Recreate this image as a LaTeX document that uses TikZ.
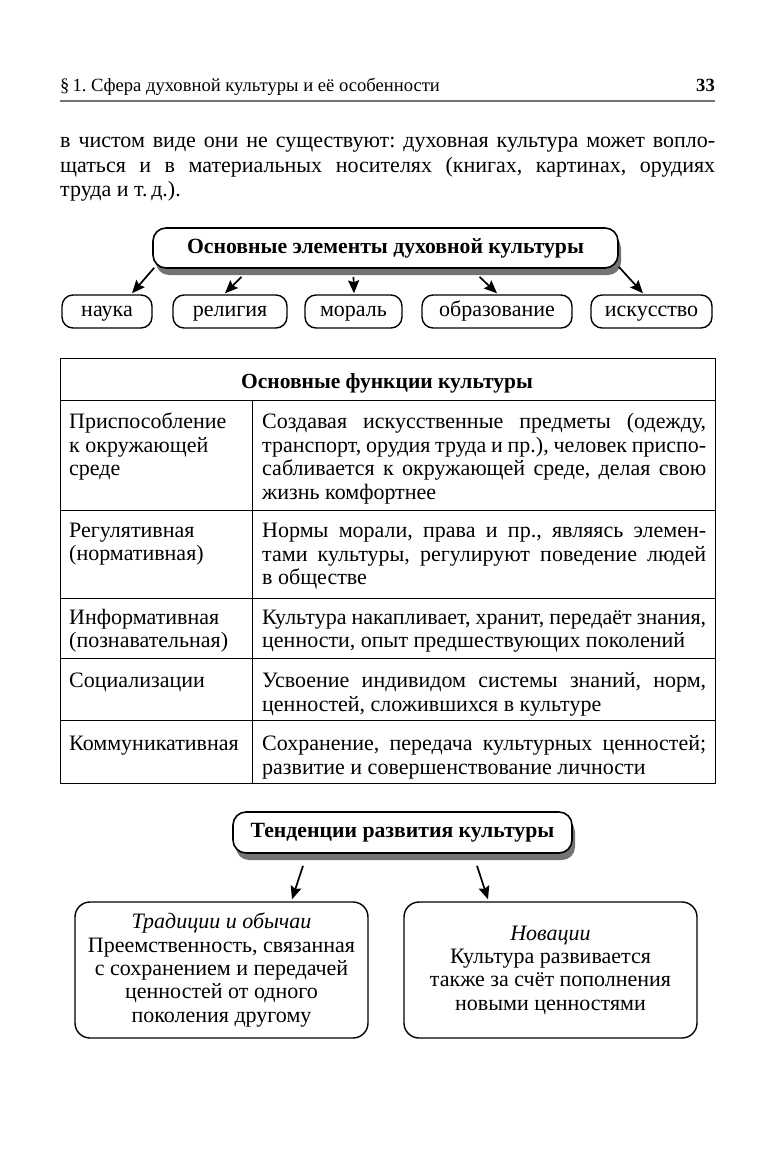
\documentclass[tikz,border=0pt]{standalone}
\usepackage{fontspec}
\setmainfont{Liberation Serif}
\usetikzlibrary{shadows,calc,arrows.meta}
\newcommand\J[2]{\makebox[#1][s]{#2}}
\frenchspacing
\begin{document}
\begin{tikzpicture}[x=1pt,y=-1pt,
  every node/.style={inner sep=0pt},
  body/.style={font=\fontsize{22}{24}\selectfont},
  txt/.style={body,anchor=base west},
  elbox/.style={draw,line width=1.4pt,rounded corners=11pt,fill=white,body,
    minimum height=33pt,text height=15pt,text depth=5pt,anchor=center},
  headbox/.style={draw,line width=1.6pt,rounded corners=13pt,fill=white,
    font=\fontsize{21.7}{24}\selectfont\bfseries,minimum height=40pt,
    drop shadow={shadow xshift=3pt,shadow yshift=-7pt,fill=black!55,opacity=1}},
  bigbox/.style={draw,line width=1.4pt,rounded corners=15pt,fill=white,
    align=center,minimum width=293pt,minimum height=136pt,
    font=\fontsize{22}{23.3}\selectfont},
  arr/.style={line width=1.7pt,-{Stealth[length=13pt,width=11pt,inset=2pt]}},
  tline/.style={line width=1pt}]
\useasboundingbox (0,0) rectangle (774,1152);
\fill[white] (0,0) rectangle (774,1152);

% running head
\node[anchor=base west,font=\fontsize{18.6}{20}\selectfont] (rh) at (60,91) {§\,1. Сфера духовной культуры и её особенности};
\node[anchor=base east,font=\fontsize{18.6}{20}\selectfont\bfseries] (pg) at (715,91) {33};
\coordinate (r1) at (60,101);
\coordinate (r2) at (715,101);
\draw[line width=1.8pt,black!55] (r1) -- (r2);

% paragraph
\node[txt] (p1) at (60,147) {\J{655pt}{в чистом виде они не существуют: духовная культура может вопло-}};
\node[txt] (p2) at (60,172) {\J{655pt}{щаться и в материальных носителях (книгах, картинах, орудиях}};
\node[txt] (p3) at (60,196) {труда и т.\,д.).};

% elements diagram
\node[headbox,minimum width=465pt] (top) at (385.5,248) {Основные элементы духовной культуры};
\node[elbox,minimum width=90pt] (e1) at (107,311.5) {наука};
\node[elbox,minimum width=114pt] (e2) at (230,311.5) {религия};
\node[elbox,minimum width=97pt] (e3) at (353.5,311.5) {мораль};
\node[elbox,minimum width=150pt] (e4) at (497,311.5) {образование};
\node[elbox,minimum width=121pt] (e5) at (651.5,311.5) {искусство};
\draw[arr] ($(top.south west)+(2,-1)$) -- ($(e1.north)+(25,-1)$);
\draw[arr] ($(top.south)+(-144,8)$) -- ($(e2.north)+(-5,-1)$);
\draw[arr] ($(top.south)+(-32,8)$) -- ($(e3.north)+(0.5,-1)$);
\draw[arr] ($(top.south)+(94,8)$) -- ($(e4.north)+(0,-1)$);
\draw[arr] ($(top.south east)+(0,-2)$) -- ($(e5.north)+(-8.5,-1)$);

% table
\coordinate (tA) at (60,358);
\coordinate (tB) at (715,783);
\draw[tline] (tA) rectangle (tB);
\coordinate (h0l) at (60,400); \coordinate (h0r) at (715,400);
\coordinate (h1l) at (60,510); \coordinate (h1r) at (715,510);
\coordinate (h2l) at (60,598); \coordinate (h2r) at (715,598);
\coordinate (h3l) at (60,658); \coordinate (h3r) at (715,658);
\coordinate (h4l) at (60,720); \coordinate (h4r) at (715,720);
\coordinate (vt) at (252,400); \coordinate (vb) at (252,783);
\draw[tline] (h0l) -- (h0r) (h1l) -- (h1r) (h2l) -- (h2r) (h3l) -- (h3r) (h4l) -- (h4r) (vt) -- (vb);
\node[anchor=base,font=\fontsize{21.5}{24}\selectfont\bfseries] (th) at (387,388) {Основные функции культуры};

\node[txt] (a1) at (69,428) {Приспособление};
\node[txt] (a2) at (69,452) {к окружающей};
\node[txt] (a3) at (69,475) {среде};
\node[txt] (b1) at (262,428) {\J{444pt}{Создавая искусственные предметы (одежду,}};
\node[txt] (b2) at (262,452) {\J{444pt}{транспорт, орудия труда и пр.), человек приспо-}};
\node[txt] (b3) at (262,475) {\J{444pt}{сабливается к окружающей среде, делая свою}};
\node[txt] (b4) at (262,499) {жизнь комфортнее};

\node[txt] (c1) at (69,537) {Регулятивная};
\node[txt] (c2) at (69,560) {(нормативная)};
\node[txt] (d1) at (262,537) {\J{444pt}{Нормы морали, права и пр., являясь элемен-}};
\node[txt] (d2) at (262,561) {\J{444pt}{тами культуры, регулируют поведение людей}};
\node[txt] (d3) at (262,584) {в обществе};

\node[txt] (f1) at (69,624) {Информативная};
\node[txt] (f2) at (69,647) {(познавательная)};
\node[txt] (g1) at (262,624) {\J{444pt}{Культура накапливает, хранит, передаёт знания,}};
\node[txt] (g2) at (262,647) {ценности, опыт предшествующих поколений};

\node[txt] (k1) at (69,687) {Социализации};
\node[txt] (l1) at (262,687) {\J{444pt}{Усвоение индивидом системы знаний, норм,}};
\node[txt] (l2) at (262,711) {ценностей, сложившихся в культуре};

\node[txt] (m1) at (69,750) {Коммуникативная};
\node[txt] (n1) at (262,750) {\J{444pt}{Сохранение, передача культурных ценностей;}};
\node[txt] (n2) at (262,774) {развитие и совершенствование личности};

% tendencies
\node[headbox,minimum width=339pt,minimum height=41pt] (tb) at (402.5,832.5) {Тенденции развития культуры};
\node[bigbox] (lb) at (221.5,970) {\textit{Традиции и обычаи}\\Преемственность, связанная\\с сохранением и передачей\\ценностей от одного\\поколения другому};
\node[bigbox] (rb) at (550.5,970) {\textit{Новации}\\Культура развивается\\также за счёт пополнения\\новыми ценностями};
\draw[arr] ($(tb.south)+(-99.5,12)$) -- ($(lb.north)+(70.5,-2)$);
\draw[arr] ($(tb.south)+(74.5,12)$) -- ($(rb.north)+(-62.5,-2)$);
\end{tikzpicture}
\end{document}
